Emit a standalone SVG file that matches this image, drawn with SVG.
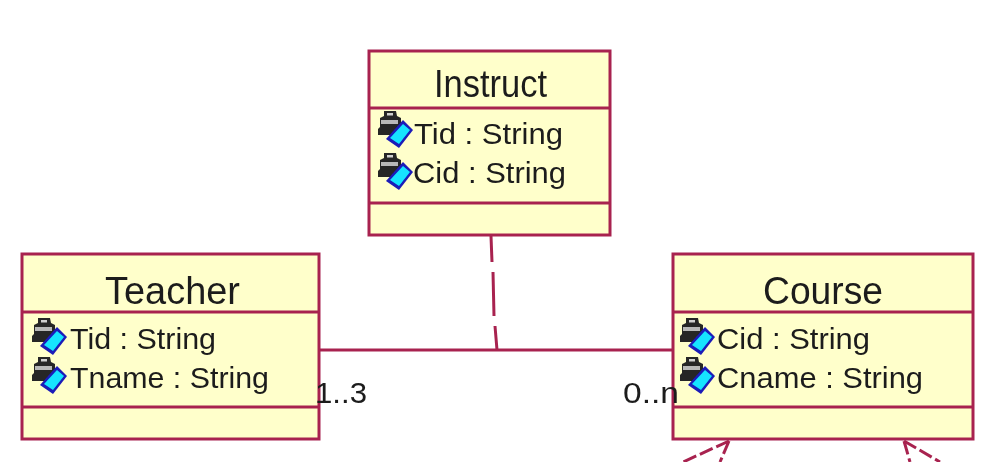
<svg xmlns="http://www.w3.org/2000/svg" width="996" height="462" viewBox="0 0 996 462">
<style>
.box{fill:#ffffcb;stroke:#a8244f;stroke-width:3}
.div{fill:none;stroke:#a8244f;stroke-width:3}
.conn{fill:none;stroke:#a8244f;stroke-width:3}
text{font-family:"Liberation Sans",Arial,sans-serif;fill:#1c1c1c}
.title{font-size:38px}
.attr{font-size:30px}
.mult{font-size:29px}
.soft{filter:url(#soft)}
</style>
<defs>
<filter id="soft" x="-5%" y="-5%" width="110%" height="110%"><feGaussianBlur stdDeviation="0.7"/></filter>
<g id="icon">
<path d="M6 1h12l1 5 4 2v9l3 2v6H0v-6l2-2V8l4-2z" fill="#262626"/>
<rect x="3" y="10" width="17" height="4" fill="#b8b8b8"/>
<rect x="9" y="3" width="6" height="2.5" fill="#d0d0d0"/>
<path d="M25 10l10 10-14 18-13-9z" fill="#1a1ab8"/>
<path d="M25 14l7 6-11 14-9-6z" fill="#12e4ff"/>
</g>
</defs>
<rect width="996" height="462" fill="#ffffff"/>
<g id="connectors" class="soft">
<path class="conn" d="M319 350H673"/>
<path class="conn" d="M491 236L492 262M493 272L494 316M495 326L497 350"/>
<path class="conn" stroke-dasharray="14 4" d="M729 441L683 462M729 441L720 462M904 441L940 462M904 441L910 462"/>
</g>
<g id="instruct" class="soft">
<rect class="box" x="369" y="51" width="241" height="184"/>
<path class="div" d="M369 108H610M369 203H610"/>
<text class="title" x="434" y="97" textLength="113" lengthAdjust="spacingAndGlyphs">Instruct</text>
<use href="#icon" x="378" y="110"/>
<use href="#icon" x="378" y="152"/>
<text class="attr" x="414" y="144" textLength="149" lengthAdjust="spacingAndGlyphs">Tid : String</text>
<text class="attr" x="413" y="183" textLength="153" lengthAdjust="spacingAndGlyphs">Cid : String</text>
</g>
<g id="teacher" class="soft">
<rect class="box" x="22" y="254" width="297" height="185"/>
<path class="div" d="M22 312H319M22 407H319"/>
<text class="title" x="105" y="304" textLength="135" lengthAdjust="spacingAndGlyphs">Teacher</text>
<use href="#icon" x="32" y="317"/>
<use href="#icon" x="32" y="356"/>
<text class="attr" x="70" y="349" textLength="146" lengthAdjust="spacingAndGlyphs">Tid : String</text>
<text class="attr" x="70" y="388" textLength="199" lengthAdjust="spacingAndGlyphs">Tname : String</text>
</g>
<g id="course" class="soft">
<rect class="box" x="673" y="254" width="300" height="185"/>
<path class="div" d="M673 312H973M673 407H973"/>
<text class="title" x="763" y="304" textLength="120" lengthAdjust="spacingAndGlyphs">Course</text>
<use href="#icon" x="680" y="317"/>
<use href="#icon" x="680" y="356"/>
<text class="attr" x="717" y="349" textLength="153" lengthAdjust="spacingAndGlyphs">Cid : String</text>
<text class="attr" x="717" y="388" textLength="206" lengthAdjust="spacingAndGlyphs">Cname : String</text>
</g>
<g id="labels" class="soft">
<text class="mult" x="315" y="403" textLength="52" lengthAdjust="spacingAndGlyphs">1..3</text>
<text class="mult" x="623" y="403" textLength="56" lengthAdjust="spacingAndGlyphs">0..n</text>
</g>
</svg>
